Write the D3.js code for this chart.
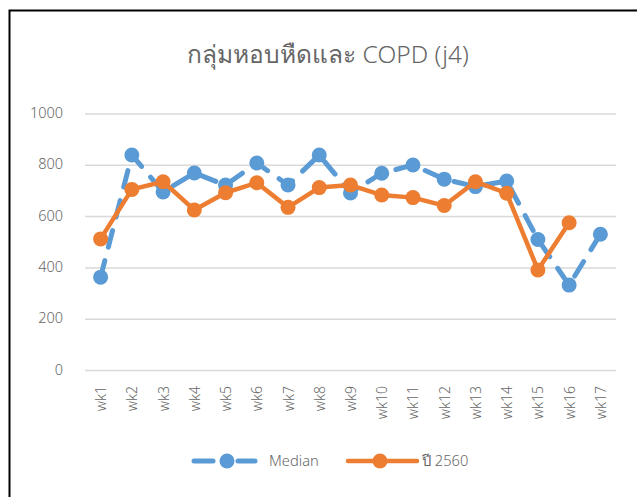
<!DOCTYPE html>
<html><head><meta charset="utf-8">
<script src="https://cdn.jsdelivr.net/npm/d3@7"></script>
<style>body{margin:0;background:#fff;}svg{display:block;font-family:"Noto Sans","DejaVu Sans",sans-serif;font-weight:300;}</style>
</head><body><svg id="c" width="637" height="497"></svg>
<script>
const categories = ["wk1","wk2","wk3","wk4","wk5","wk6","wk7","wk8","wk9","wk10","wk11","wk12","wk13","wk14","wk15","wk16","wk17"];
const medianValues = [364,840,696,770,723,809,723,840,692,769,801,746,717,739,511,333,531];
const y2560Values = [513,706,736,626,693,732,636,713,723,684,674,643,736,691,392,576,null];
const yTicks = [0,200,400,600,800,1000];
const title = "กลุ่มหอบหืดและ COPD (j4)";
const seriesNames = ["Median","ปี 2560"];

const svg = d3.select("#c");
const W=637,H=497;
const txt="#666666";
svg.append("rect").attr("width",W).attr("height",H).attr("fill","#fff");
svg.append("rect").attr("x",9.5).attr("y",10.5).attr("width",W).attr("height",H)
  .attr("fill","none").attr("stroke","#000").attr("stroke-width",2);

const x = d3.scaleBand().domain(categories).range([85,616]);
const y = d3.scaleLinear().domain([0,1000]).range([370.5,114]);
const cx = d => x(d)+x.bandwidth()/2;

svg.append("text").attr("x",328).attr("y",63).attr("text-anchor","middle")
  .attr("font-size",24.5).attr("fill",txt).text(title);

const grid = svg.append("g");
yTicks.forEach(t=>{
  grid.append("line").attr("x1",85).attr("x2",616).attr("y1",y(t)).attr("y2",y(t))
    .attr("stroke","#d9d9d9").attr("stroke-width",1.5);
  grid.append("text").attr("x",63).attr("y",y(t)+4).attr("text-anchor","end")
    .attr("font-size",14.5).attr("fill",txt).text(t);
});
categories.forEach(c=>{
  svg.append("text").attr("transform",`translate(${cx(c)+5.5},386) rotate(-90)`)
    .attr("text-anchor","end").attr("font-size",14).attr("fill",txt).text(c);
});

const blue="#5b9bd5", orange="#ed7d31";
const md = categories.map((c,i)=>({c,v:medianValues[i]}));
const od = categories.map((c,i)=>({c,v:y2560Values[i]})).filter(d=>d.v!=null);
const line = d3.line().x(d=>cx(d.c)).y(d=>y(d.v));

svg.append("path").datum(md).attr("d",line).attr("fill","none").attr("stroke",blue)
  .attr("stroke-width",5).attr("stroke-dasharray","17,14").attr("stroke-linecap","round");
svg.selectAll(".mb").data(md).enter().append("circle").attr("cx",d=>cx(d.c)).attr("cy",d=>y(d.v))
  .attr("r",7.5).attr("fill",blue);

svg.append("path").datum(od).attr("d",line).attr("fill","none").attr("stroke",orange)
  .attr("stroke-width",4.5).attr("stroke-linejoin","round");
svg.selectAll(".mo").data(od).enter().append("circle").attr("cx",d=>cx(d.c)).attr("cy",d=>y(d.v))
  .attr("r",7.5).attr("fill",orange);

// legend
const ly=461;
[[194,213],[238,255]].forEach(s=>{
  svg.append("line").attr("x1",s[0]).attr("x2",s[1]).attr("y1",ly).attr("y2",ly).attr("stroke",blue)
    .attr("stroke-width",5).attr("stroke-linecap","round");
});
svg.append("circle").attr("cx",227).attr("cy",ly).attr("r",7.5).attr("fill",blue);
svg.append("text").attr("x",269).attr("y",ly+5).attr("font-size",14.7).attr("fill",txt).text(seriesNames[0]);
svg.append("line").attr("x1",348).attr("x2",417).attr("y1",ly).attr("y2",ly).attr("stroke",orange)
  .attr("stroke-width",4.5).attr("stroke-linecap","round");
svg.append("circle").attr("cx",380).attr("cy",ly).attr("r",7.5).attr("fill",orange);
svg.append("text").attr("x",422).attr("y",ly+5).attr("font-size",14.7).attr("fill",txt).text(seriesNames[1]);
</script></body></html>
